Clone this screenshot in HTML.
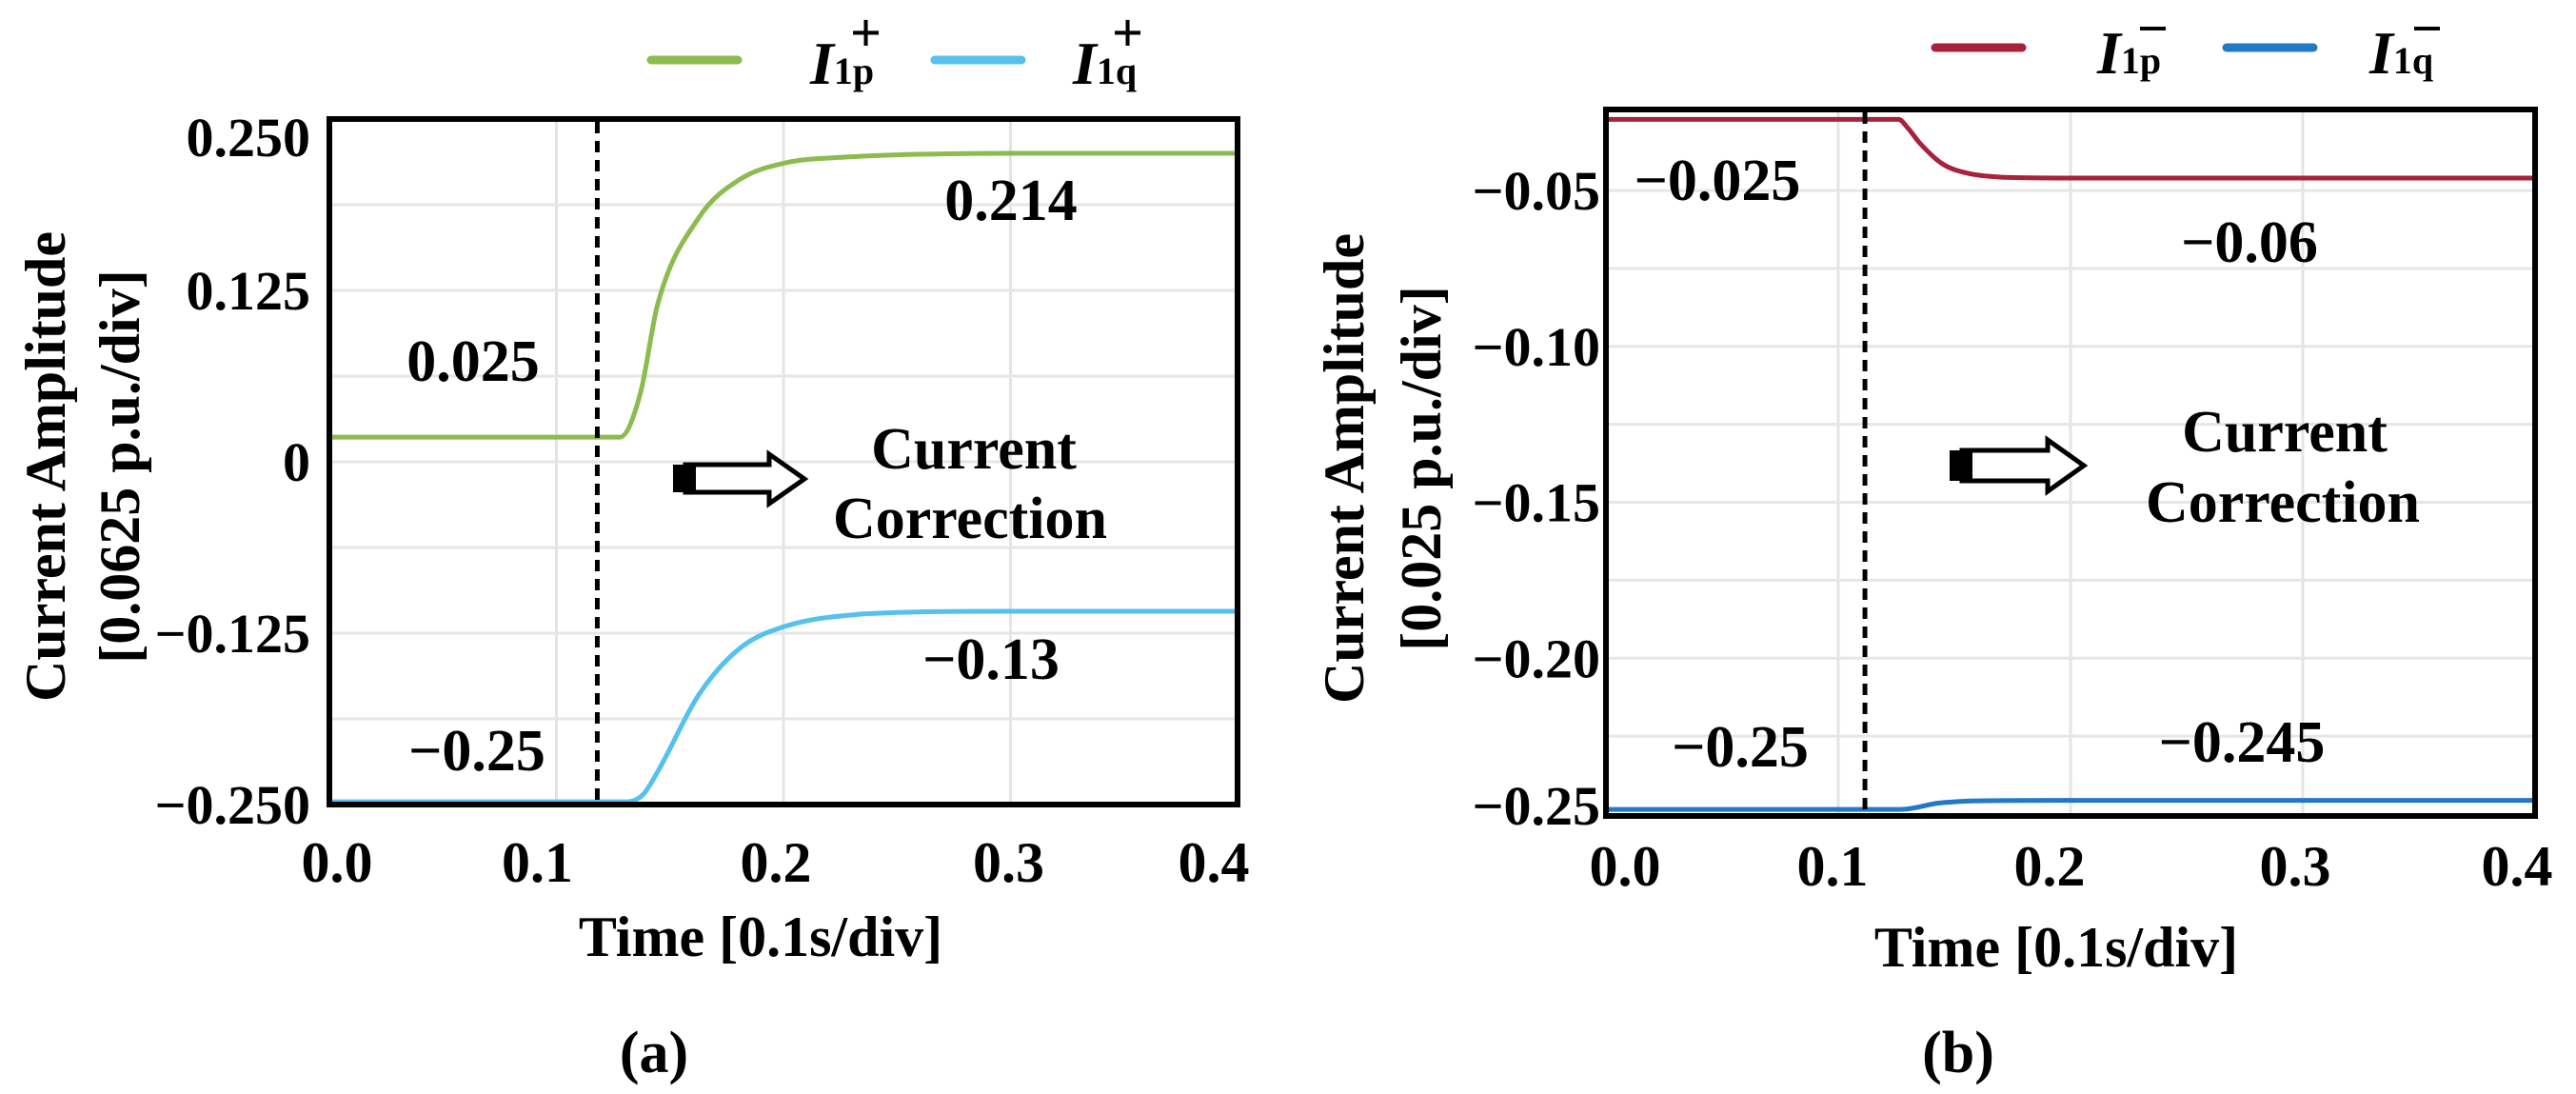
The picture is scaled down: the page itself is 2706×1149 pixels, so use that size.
<!DOCTYPE html>
<html><head><meta charset="utf-8"><style>
html,body{margin:0;padding:0;background:#fff;}
svg{display:block;}
text{font-family:"Liberation Serif",serif;font-weight:bold;fill:#000;}
</style></head><body>
<svg id="fig" width="2706" height="1149" viewBox="0 0 2706 1149" xmlns="http://www.w3.org/2000/svg">
<g id="pa"></g>
<g id="pb"></g>
</svg>
<script>
// Panel (a) data
const aTimeP = [0,0.128,0.137,0.1446,0.1627,0.1808,0.2008,0.225,0.253,0.3,0.4];
const aValP  = [0.018,0.018,0.05,0.115,0.178,0.206,0.218,0.222,0.224,0.225,0.225];
const aTimeQ = [0,0.130,0.138,0.1446,0.1627,0.1808,0.2008,0.235,0.3,0.4];
const aValQ  = [-0.248,-0.248,-0.243,-0.226,-0.170,-0.136,-0.120,-0.111,-0.109,-0.109];
const aYTicks = [0.25,0.125,0,-0.125,-0.25];
const aYTickLabels = ["0.250","0.125","0","\u22120.125","\u22120.250"];
const aXTicks = [0,0.1,0.2,0.3,0.4];
const aXTickLabels = ["0.0","0.1","0.2","0.3","0.4"];
const aEventTime = [0.118];
// Panel (b) data
const bTimeP = [0,0.126,0.130,0.135,0.1447,0.156,0.172,0.2,0.4];
const bValP  = [-0.0272,-0.0272,-0.0300,-0.0347,-0.0414,-0.0445,-0.0458,-0.046,-0.046];
const bTimeQ = [0,0.127,0.143,0.157,0.2,0.4];
const bValQ  = [-0.2485,-0.2485,-0.2465,-0.2458,-0.2456,-0.2456];
const bYTicks = [-0.05,-0.10,-0.15,-0.20,-0.25];
const bYTickLabels = ["\u22120.05","\u22120.10","\u22120.15","\u22120.20","\u22120.25"];
const bXTicks = [0,0.1,0.2,0.3,0.4];
const bXTickLabels = ["0.0","0.1","0.2","0.3","0.4"];
const bEventTime = [0.1115];

const NS="http://www.w3.org/2000/svg";
function mk(parent,tag,attrs){const e=document.createElementNS(NS,tag);for(const k in attrs)e.setAttribute(k,attrs[k]);parent.appendChild(e);return e;}
function txt(parent,x,y,s,size,anchor){const e=mk(parent,'text',{x:x,y:y,'font-size':size,'text-anchor':anchor||'middle'});e.textContent=s;return e;}

const ax={x0:346,x1:1300,y0:125,y1:845,tmin:0,tmax:0.4,vmin:-0.25,vmax:0.25};
const bx={x0:1687,x1:2663,y0:115,y1:857,tmin:0,tmax:0.4,vmin:-0.25-(2/81.8)*0.025,vmax:-0.05+(85/81.8)*0.025};
function X(a,t){return a.x0+(t-a.tmin)/(a.tmax-a.tmin)*(a.x1-a.x0);}
function Y(a,v){return a.y1-(v-a.vmin)/(a.vmax-a.vmin)*(a.y1-a.y0);}
function cl(v,a,b){const lo=Math.min(a,b),hi=Math.max(a,b);return Math.min(hi,Math.max(lo,v));}
function smooth(P){
  let d='M'+P[0][0].toFixed(1)+','+P[0][1].toFixed(1);
  for(let i=0;i<P.length-1;i++){
    const p0=P[Math.max(0,i-1)],p1=P[i],p2=P[i+1],p3=P[Math.min(P.length-1,i+2)];
    const dx=p2[0]-p1[0];
    // slopes (dy/dx) at p1 and p2, monotone-limited
    const s01=(p1[1]-p0[1])/((p1[0]-p0[0])||1), s12=(p2[1]-p1[1])/(dx||1), s23=(p3[1]-p2[1])/((p3[0]-p2[0])||1);
    let m1=(i===0)?s12:((s01*s12<=0)?0:(s01+s12)/2);
    let m2=(i===P.length-2)?s12:((s12*s23<=0)?0:(s12+s23)/2);
    if(Math.abs(m1)>3*Math.abs(s12))m1=3*s12; if(Math.abs(m2)>3*Math.abs(s12))m2=3*s12;
    const c1=[p1[0]+dx/3,cl(p1[1]+m1*dx/3,p1[1],p2[1])];
    const c2=[p2[0]-dx/3,cl(p2[1]-m2*dx/3,p1[1],p2[1])];
    d+=' C'+c1[0].toFixed(1)+','+c1[1].toFixed(1)+' '+c2[0].toFixed(1)+','+c2[1].toFixed(1)+' '+p2[0].toFixed(1)+','+p2[1].toFixed(1);
  }
  return d;
}

function panel(g,A,cfg){
  cfg.xt.forEach((t,i)=>{ if(i>0&&i<cfg.xt.length-1){const l=mk(g,'line',{x1:X(A,t),x2:X(A,t),y1:A.y0,y2:A.y1,stroke:'#e4e4e4','stroke-width':3});
    
    }});
  for(const v of cfg.grid){const l=mk(g,'line',{x1:A.x0,x2:A.x1,y1:Y(A,v),y2:Y(A,v),stroke:'#e6e6e6','stroke-width':3});
    
    }
  cfg.series.forEach(s=>{const P=s.t.map((t,i)=>[X(A,t),Y(A,s.v[i])]);
    const p=mk(g,'path',{d:smooth(P),fill:'none',stroke:s.c,'stroke-width':5,'stroke-linejoin':'round'});
    
    });
  const ex=X(A,cfg.ev[0]);
  const d=mk(g,'line',{x1:ex,x2:ex,y1:A.y0+3,y2:A.y1-3,stroke:'#000','stroke-width':5,'stroke-dasharray':'12 8'});
  
  
  const r=mk(g,'rect',{x:A.x0,y:A.y0,width:A.x1-A.x0,height:A.y1-A.y0,fill:'none',stroke:'#000','stroke-width':6});
  
  
  cfg.yt.forEach((v,i)=>{let y=Y(A,v)+20; y=Math.max(y,A.y0+39); y=Math.min(y,cfg.ymaxBase);
    const t=txt(g,cfg.yRight,y,cfg.ytl[i],58,'end');
    
    });
  cfg.xt.forEach((v,i)=>{const t=txt(g,X(A,v)+cfg.xoff[i],cfg.xBase,cfg.xtl[i],60,'middle');
    
    });
}

const ga=document.getElementById('pa'), gb=document.getElementById('pb');
panel(ga,ax,{grid:[0.1875,0.125,0.0625,0,-0.0625,-0.125,-0.1875],xt:aXTicks,xtl:aXTickLabels,xoff:[8,-20,-8,-2,-25],yt:aYTicks,ytl:aYTickLabels,yRight:326,ymaxBase:866,xBase:926,ev:aEventTime,
  series:[{t:aTimeP,v:aValP,c:'#8cbb4f',name:'series-i1p-plus'},{t:aTimeQ,v:aValQ,c:'#55c1ec',name:'series-i1q-plus'}]});
panel(gb,bx,{grid:[-0.05,-0.075,-0.10,-0.125,-0.15,-0.175,-0.20,-0.225],xt:bXTicks,xtl:bXTickLabels,xoff:[20,-6,-22,-8,-19],yt:bYTicks,ytl:bYTickLabels,yRight:1681,ymaxBase:866,xBase:930,ev:bEventTime,
  series:[{t:bTimeP,v:bValP,c:'#a8223c',name:'series-i1p-minus'},{t:bTimeQ,v:bValQ,c:'#2279c8',name:'series-i1q-minus'}]});
</script>

<svg style="position:absolute;left:0;top:0" width="2706" height="1149" xmlns="http://www.w3.org/2000/svg">
<style>text{font-family:"Liberation Serif",serif;font-weight:bold;}</style>
<text transform="translate(68,490) rotate(-90)" text-anchor="middle" font-size="60">Current Amplitude</text>
<text transform="translate(146,490) rotate(-90)" text-anchor="middle" font-size="60">[0.0625 p.u./div]</text>
<text transform="translate(1432,492) rotate(-90)" text-anchor="middle" font-size="60">Current Amplitude</text>
<text transform="translate(1513,492) rotate(-90)" text-anchor="middle" font-size="60">[0.025 p.u./div]</text>
<text x="799" y="1004" text-anchor="middle" font-size="60">Time [0.1s/div]</text>
<text x="2160" y="1015" text-anchor="middle" font-size="60">Time [0.1s/div]</text>
<text x="687" y="1126" text-anchor="middle" font-size="62">(a)</text>
<text x="2057" y="1126" text-anchor="middle" font-size="62">(b)</text>
<text x="1062" y="231" text-anchor="middle" font-size="62">0.214</text>
<text x="497" y="400" text-anchor="middle" font-size="62">0.025</text>
<text x="501" y="809" text-anchor="middle" font-size="62">−0.25</text>
<text x="1041" y="713" text-anchor="middle" font-size="62">−0.13</text>
<text x="1023" y="492" text-anchor="middle" font-size="62">Current</text>
<text x="1019" y="565" text-anchor="middle" font-size="62">Correction</text>
<text x="1804" y="210" text-anchor="middle" font-size="62">−0.025</text>
<text x="2363" y="275" text-anchor="middle" font-size="62">−0.06</text>
<text x="2400" y="474" text-anchor="middle" font-size="62">Current</text>
<text x="2398" y="548" text-anchor="middle" font-size="62">Correction</text>
<text x="1828" y="805" text-anchor="middle" font-size="62">−0.25</text>
<text x="2355" y="800" text-anchor="middle" font-size="62">−0.245</text>
<g>
<path d="M720,488 L808,488 L808,477 L845,503 L808,529 L808,517 L720,517 Z" fill="#fff" stroke="#000" stroke-width="5"/>
<rect x="707" y="488" width="12" height="29" fill="#000"/><rect x="722" y="488" width="9" height="29" fill="#000"/>
</g>
<g>
<path d="M2061,473 L2151,473 L2151,462 L2189,489 L2151,516 L2151,505 L2061,505 Z" fill="#fff" stroke="#000" stroke-width="5"/>
<rect x="2048" y="473" width="12" height="32" fill="#000"/><rect x="2063" y="473" width="9" height="32" fill="#000"/>
</g>
<g>
<line x1="684" y1="63" x2="775" y2="63" stroke="#8cbb4f" stroke-width="9" stroke-linecap="round"/>
<text x="851" y="88" font-size="64"><tspan font-style="italic">I</tspan><tspan font-size="40">1p</tspan></text>
<text x="893" y="54" font-size="58" font-weight="normal">+</text>
<line x1="982" y1="63" x2="1073" y2="63" stroke="#55c1ec" stroke-width="9" stroke-linecap="round"/>
<text x="1127" y="88" font-size="64"><tspan font-style="italic">I</tspan><tspan font-size="40">1q</tspan></text>
<text x="1168" y="54" font-size="58" font-weight="normal">+</text>
</g>
<g>
<line x1="2033" y1="50" x2="2124" y2="50" stroke="#a8223c" stroke-width="9" stroke-linecap="round"/>
<text x="2203" y="77" font-size="64"><tspan font-style="italic">I</tspan><tspan font-size="40">1p</tspan></text>
<rect x="2248" y="28" width="27" height="4" fill="#000"/>
<line x1="2339" y1="50" x2="2430" y2="50" stroke="#2279c8" stroke-width="9" stroke-linecap="round"/>
<text x="2489" y="77" font-size="64"><tspan font-style="italic">I</tspan><tspan font-size="40">1q</tspan></text>
<rect x="2536" y="28" width="27" height="4" fill="#000"/>
</g>
</svg>
</body></html>
